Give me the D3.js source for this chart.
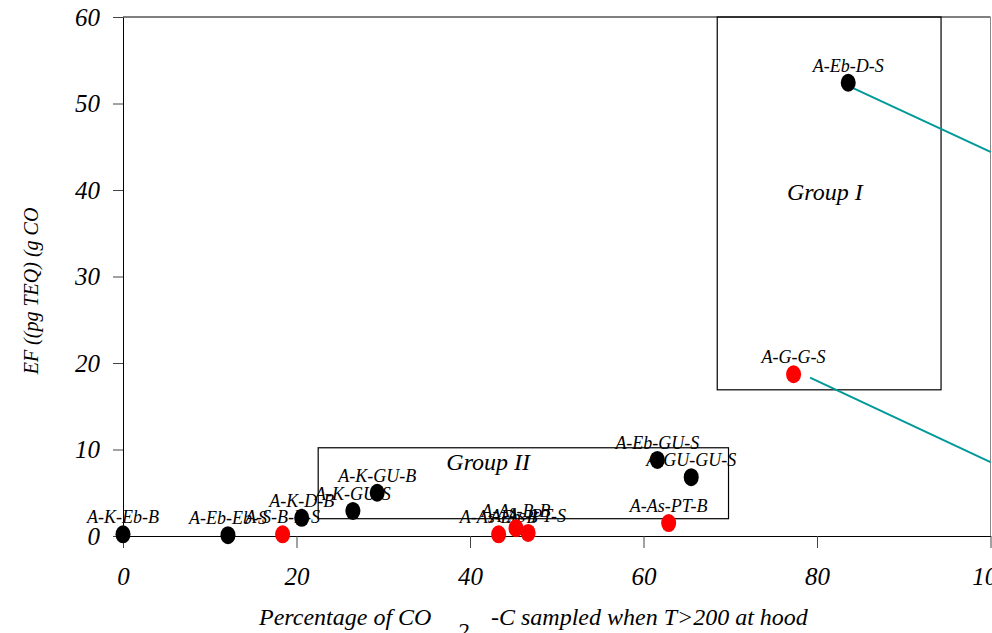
<!DOCTYPE html>
<html>
<head>
<meta charset="utf-8">
<script src="https://cdn.jsdelivr.net/npm/d3@7"></script>
<style>
  body { margin: 0; background: #fff; }
  svg { display: block; }
  text { font-family: "Liberation Serif", "Times New Roman", serif; font-style: italic; }
</style>
</head>
<body>
<svg></svg>
<script>
const width = 992
const height = 633

// point data
const names = ['A-K-Eb-B', 'A-Eb-Eb-S', 'A-S-B-B-S', 'A-K-D-B', 'A-K-GU-S', 'A-K-GU-B',
  'A-As-Eb-B', 'A-As-B-B', 'A-As-PT-S', 'A-Eb-GU-S', 'A-GU-GU-S', 'A-As-PT-B', 'A-G-G-S', 'A-Eb-D-S']
const xValues = [0, 12.1, 18.4, 20.6, 26.5, 29.3, 43.3, 45.3, 46.7, 61.6, 65.5, 62.9, 77.3, 83.6]
const yValues = [0.2, 0.1, 0.2, 2.1, 2.9, 5.0, 0.2, 0.9, 0.35, 8.8, 6.8, 1.5, 18.7, 52.4]
const groups = ['black', 'black', 'red', 'black', 'black', 'black',
  'red', 'red', 'red', 'black', 'black', 'red', 'red', 'black']

const xTicks = [0, 20, 40, 60, 80, 100]
const yTicks = [0, 10, 20, 30, 40, 50, 60]

// group boxes [x0, x1, y0, y1] in data units
const boxNames = ['Group I', 'Group II']
const boxX = [[68.5, 94.3], [22.5, 69.8]]
const boxY = [[16.9, 60], [2.0, 10.2]]
const boxLabelPos = [[80.9, 38.9], [42.1, 7.6]]

// connector lines leaving the chart to the right
const linkX = [[84.1, 100], [79.2, 100]]
const linkY = [[51.8, 44.4], [18.3, 8.55]]

const data = names.map((n, i) => ({name: n, x: xValues[i], y: yValues[i], group: groups[i]}))

const x = d3.scaleLinear().domain([0, 100]).range([123, 990.5])
const y = d3.scaleLinear().domain([0, 60]).range([536, 17])
const color = d3.scaleOrdinal().domain(['black', 'red']).range(['#000000', '#ff0000'])

const svg = d3.select('svg').attr('width', width).attr('height', height)

//frame top and right
svg.append('line').attr('x1', x(0)).attr('x2', x(100)).attr('y1', y(60)).attr('y2', y(60))
  .attr('stroke', '#000').attr('stroke-width', 1)
svg.append('line').attr('x1', x(100)).attr('x2', x(100)).attr('y1', y(60)).attr('y2', y(0))
  .attr('stroke', '#888').attr('stroke-width', 1)

//axes
const xAxis = svg.append('g').attr('transform', `translate(0,${y(0)})`)
  .call(d3.axisBottom(x).tickValues(xTicks).tickSize(12).tickSizeOuter(0).tickPadding(19))
const yAxis = svg.append('g').attr('transform', `translate(${x(0)},0)`)
  .call(d3.axisLeft(y).tickValues(yTicks).tickSize(10).tickSizeOuter(0).tickPadding(13))
for (const ax of [xAxis, yAxis]) {
  ax.select('.domain').attr('stroke', '#000')
  ax.selectAll('.tick line').attr('stroke', '#444')
  ax.selectAll('text').attr('font-size', 25).attr('fill', '#000')
    .style('font-family', '"Liberation Serif", serif').style('font-style', 'italic')
}
yAxis.selectAll('.tick text').attr('dy', '0.33em')

//axis titles
svg.append('text')
  .attr('transform', 'translate(38,291) rotate(-90)')
  .attr('text-anchor', 'middle').attr('font-size', 20)
  .text('EF ((pg TEQ) (g CO')
const xt = svg.append('g').attr('font-size', 24)
xt.append('text').attr('x', 259).attr('y', 625).text('Percentage of CO')
xt.append('text').attr('x', 457).attr('y', 639).text('2')
xt.append('text').attr('x', 491).attr('y', 625).text('-C sampled when T>200 at hood')

//point labels (drawn under the dots)
svg.append('g').selectAll('text').data(data).enter().append('text')
  .attr('x', d => x(d.x))
  .attr('y', d => y(d.y) - 11)
  .attr('text-anchor', 'middle')
  .attr('font-size', 18)
  .text(d => d.name)

//group boxes
const boxes = svg.append('g')
boxNames.forEach((n, i) => {
  boxes.append('rect')
    .attr('x', x(boxX[i][0])).attr('y', y(boxY[i][1]))
    .attr('width', x(boxX[i][1]) - x(boxX[i][0]))
    .attr('height', y(boxY[i][0]) - y(boxY[i][1]))
    .attr('fill', 'none').attr('stroke', '#000').attr('stroke-width', 1.2)
  boxes.append('text')
    .attr('x', x(boxLabelPos[i][0])).attr('y', y(boxLabelPos[i][1]))
    .attr('text-anchor', 'middle').attr('font-size', 24)
    .text(n)
})

//teal connectors
linkX.forEach((lx, i) => {
  svg.append('line')
    .attr('x1', x(lx[0])).attr('y1', y(linkY[i][0]))
    .attr('x2', x(lx[1])).attr('y2', y(linkY[i][1]))
    .attr('stroke', '#009999').attr('stroke-width', 2)
})

//dots
svg.append('g').selectAll('ellipse').data(data).enter().append('ellipse')
  .attr('cx', d => x(d.x))
  .attr('cy', d => y(d.y))
  .attr('rx', 7.5)
  .attr('ry', 9)
  .attr('fill', d => color(d.group))
</script>
</body>
</html>
